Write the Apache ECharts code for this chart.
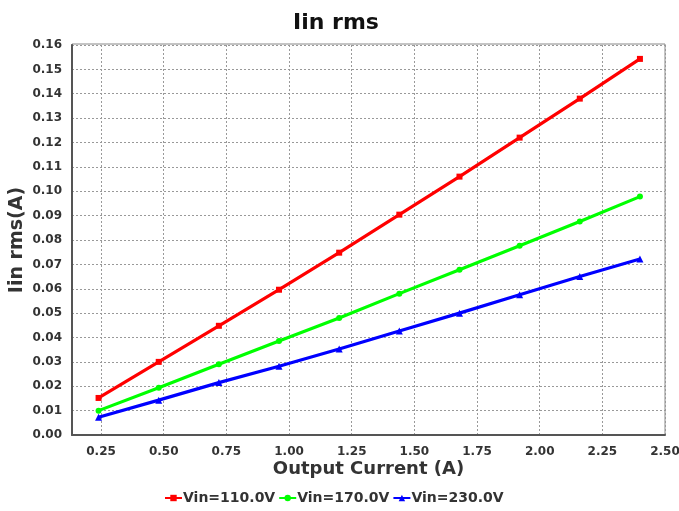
<!DOCTYPE html>
<html>
<head>
<meta charset="utf-8">
<script src="https://cdn.jsdelivr.net/npm/echarts@6/dist/echarts.min.js"></script>
<style>html,body{margin:0;padding:0;background:#fff}#c{width:679px;height:511px}</style>
</head>
<body>
<div id="c"></div>
<script>
const xValues = [0.24, 0.48, 0.72, 0.96, 1.20, 1.44, 1.68, 1.92, 2.16, 2.40];
const vin110 = [0.0152, 0.0300, 0.0448, 0.0596, 0.0748, 0.0904, 0.1060, 0.1220, 0.1380, 0.1543];
const vin170 = [0.0100, 0.0194, 0.0290, 0.0386, 0.0480, 0.0580, 0.0678, 0.0776, 0.0876, 0.0978];
const vin230 = [0.0073, 0.0143, 0.0215, 0.0282, 0.0353, 0.0427, 0.0500, 0.0575, 0.0650, 0.0722];
const seriesNames = ['Vin=110.0V', 'Vin=170.0V', 'Vin=230.0V'];
const xTicks = [0.25, 0.50, 0.75, 1.00, 1.25, 1.50, 1.75, 2.00, 2.25, 2.50];

const font = '"DejaVu Sans", Verdana, sans-serif';
function pairs(ys){ return xValues.map((x,i)=>[x, ys[i]]); }
function mk(name, ys, color, symbol, size){
  return {
    name, type:'line', data: pairs(ys), symbol, symbolSize:size,
    lineStyle:{color, width:3.2}, itemStyle:{color}, animation:false
  };
}
const chart = echarts.init(document.getElementById('c'));
chart.setOption({
  animation:false,
  title:{text:'Iin rms', left:288, top:7, textStyle:{fontFamily:font, fontSize:22, fontWeight:'bold', color:'#111'}},
  grid:{left:72, right:14, top:45, bottom:76, containLabel:false, outerBoundsMode:'none'},
  xAxis:{
    type:'value', min:0.134, max:2.5,
    name:'Output Current (A)', nameLocation:'middle', nameGap:25, nameMoveOverlap:false,
    nameTextStyle:{fontFamily:font, fontSize:18, fontWeight:'bold', color:'#333', verticalAlign:'top'},
    axisLine:{show:true, lineStyle:{color:'#555', width:2}},
    axisTick:{show:false, customValues:xTicks},
    axisLabel:{customValues:xTicks, formatter:v=>v.toFixed(2), fontFamily:font, fontSize:12, fontWeight:'bold', color:'#333', margin:11},
    splitLine:{show:true, lineStyle:{color:'#999', type:[2,2], width:1}}
  },
  yAxis:{
    type:'value', min:0, max:0.16, interval:0.01,
    name:'Iin rms(A)', nameLocation:'middle', nameGap:45, nameRotate:90, nameMoveOverlap:false,
    nameTextStyle:{fontFamily:font, fontSize:19, fontWeight:'bold', color:'#333'},
    axisLine:{show:true, lineStyle:{color:'#555', width:2}},
    axisTick:{show:false},
    axisLabel:{formatter:v=>v.toFixed(2), fontFamily:font, fontSize:12, fontWeight:'bold', color:'#333', margin:10},
    splitLine:{show:true, lineStyle:{color:'#999', type:[2,2], width:1}}
  },
  legend:{
    bottom:1, left:159, itemGap:3, itemWidth:17, itemHeight:8,
    textStyle:{fontFamily:font, fontSize:14, fontWeight:'bold', color:'#333', padding:[0,0,0,-4]},
    data:seriesNames
  },
  graphic:[
    {type:'rect', shape:{x:72, y:44, width:593, height:391}, style:{fill:'none', stroke:'#888', lineWidth:1}, silent:true, z:-1}
  ],
  series:[
    mk(seriesNames[0], vin110, '#ff0000', 'rect', 6),
    mk(seriesNames[1], vin170, '#00ff00', 'circle', 6),
    mk(seriesNames[2], vin230, '#0000ff', 'triangle', 7)
  ]
});
</script>
</body>
</html>
